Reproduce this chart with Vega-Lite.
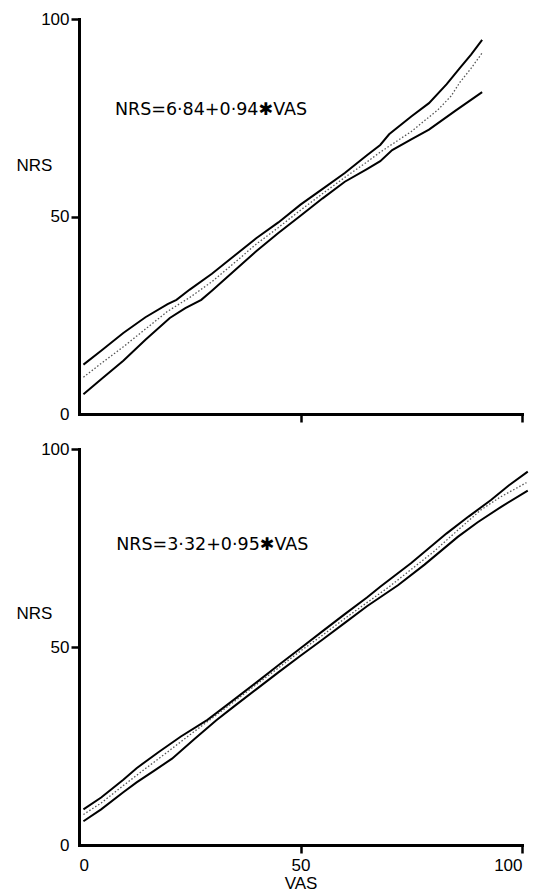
{
  "$schema": "https://vega.github.io/schema/vega-lite/v6.json",
  "background": "white",
  "padding": {"left": 16, "top": 10, "right": 12, "bottom": 0},
  "bounds": "flush",
  "spacing": 35,
  "config": {
    "view": {"stroke": null},
    "font": "Liberation Sans",
    "axis": {
      "grid": false,
      "domainColor": "black",
      "domainWidth": 3,
      "domainCap": "square",
      "tickColor": "black",
      "tickWidth": 2.5,
      "tickSize": 8,
      "labelFont": "Liberation Sans",
      "labelFontSize": 17,
      "labelColor": "black",
      "labelPadding": 2,
      "titleFont": "Liberation Sans",
      "titleFontSize": 17,
      "titleFontWeight": "normal",
      "titleColor": "black"
    }
  },
  "datasets": {
    "top": [
      {"series": "upper", "vas": 1, "nrs": 12.5}, {"series": "upper", "vas": 5, "nrs": 16}, {"series": "upper", "vas": 10, "nrs": 20.5},
      {"series": "upper", "vas": 15, "nrs": 24.5}, {"series": "upper", "vas": 20, "nrs": 27.8}, {"series": "upper", "vas": 22, "nrs": 28.9},
      {"series": "upper", "vas": 25, "nrs": 31.5}, {"series": "upper", "vas": 30, "nrs": 35.5}, {"series": "upper", "vas": 35, "nrs": 40},
      {"series": "upper", "vas": 40, "nrs": 44.5}, {"series": "upper", "vas": 45, "nrs": 48.5}, {"series": "upper", "vas": 50, "nrs": 53},
      {"series": "upper", "vas": 55, "nrs": 57}, {"series": "upper", "vas": 60, "nrs": 61}, {"series": "upper", "vas": 65, "nrs": 65.5},
      {"series": "upper", "vas": 68, "nrs": 68.1}, {"series": "upper", "vas": 70, "nrs": 70.8}, {"series": "upper", "vas": 75, "nrs": 75.3},
      {"series": "upper", "vas": 79, "nrs": 78.7}, {"series": "upper", "vas": 83, "nrs": 83.5}, {"series": "upper", "vas": 86, "nrs": 87.6},
      {"series": "upper", "vas": 88.5, "nrs": 91}, {"series": "upper", "vas": 91, "nrs": 94.7},
      {"series": "lower", "vas": 1, "nrs": 5}, {"series": "lower", "vas": 5, "nrs": 8.8}, {"series": "lower", "vas": 10, "nrs": 13.5},
      {"series": "lower", "vas": 15, "nrs": 18.8}, {"series": "lower", "vas": 20.5, "nrs": 24.3}, {"series": "lower", "vas": 24, "nrs": 26.8},
      {"series": "lower", "vas": 27.6, "nrs": 28.9}, {"series": "lower", "vas": 30, "nrs": 31.2}, {"series": "lower", "vas": 35, "nrs": 36.2},
      {"series": "lower", "vas": 40, "nrs": 41.2}, {"series": "lower", "vas": 45, "nrs": 45.8}, {"series": "lower", "vas": 50, "nrs": 50.2},
      {"series": "lower", "vas": 55, "nrs": 54.6}, {"series": "lower", "vas": 60, "nrs": 58.8}, {"series": "lower", "vas": 65, "nrs": 62},
      {"series": "lower", "vas": 68, "nrs": 64}, {"series": "lower", "vas": 70.7, "nrs": 66.8}, {"series": "lower", "vas": 75, "nrs": 69.5},
      {"series": "lower", "vas": 79, "nrs": 72}, {"series": "lower", "vas": 85, "nrs": 76.8}, {"series": "lower", "vas": 91, "nrs": 81.5},
      {"series": "fit", "vas": 1, "nrs": 9.3}, {"series": "fit", "vas": 5, "nrs": 12.8}, {"series": "fit", "vas": 10, "nrs": 17},
      {"series": "fit", "vas": 15, "nrs": 21.5}, {"series": "fit", "vas": 20, "nrs": 26}, {"series": "fit", "vas": 25, "nrs": 29.5},
      {"series": "fit", "vas": 30, "nrs": 33.5}, {"series": "fit", "vas": 35, "nrs": 38.2}, {"series": "fit", "vas": 40, "nrs": 43},
      {"series": "fit", "vas": 45, "nrs": 47.2}, {"series": "fit", "vas": 50, "nrs": 51.6}, {"series": "fit", "vas": 55, "nrs": 55.8},
      {"series": "fit", "vas": 60, "nrs": 59.9}, {"series": "fit", "vas": 65, "nrs": 63.8}, {"series": "fit", "vas": 68, "nrs": 66.3},
      {"series": "fit", "vas": 75, "nrs": 71.5}, {"series": "fit", "vas": 81, "nrs": 77}, {"series": "fit", "vas": 84, "nrs": 80.5},
      {"series": "fit", "vas": 86, "nrs": 84}, {"series": "fit", "vas": 88.5, "nrs": 87.5}, {"series": "fit", "vas": 91, "nrs": 91.4}
    ],
    "bottom": [
      {"series": "upper", "vas": 1, "nrs": 9}, {"series": "upper", "vas": 5, "nrs": 12}, {"series": "upper", "vas": 10, "nrs": 16.5},
      {"series": "upper", "vas": 13, "nrs": 19.4}, {"series": "upper", "vas": 18, "nrs": 23.5}, {"series": "upper", "vas": 23, "nrs": 27.4},
      {"series": "upper", "vas": 29, "nrs": 31.6}, {"series": "upper", "vas": 35, "nrs": 36.7}, {"series": "upper", "vas": 40, "nrs": 41},
      {"series": "upper", "vas": 45, "nrs": 45.4}, {"series": "upper", "vas": 50, "nrs": 49.7}, {"series": "upper", "vas": 55, "nrs": 54},
      {"series": "upper", "vas": 60, "nrs": 58.3}, {"series": "upper", "vas": 65, "nrs": 62.5}, {"series": "upper", "vas": 68, "nrs": 65.2},
      {"series": "upper", "vas": 75, "nrs": 71.2}, {"series": "upper", "vas": 83, "nrs": 78.7}, {"series": "upper", "vas": 88, "nrs": 83},
      {"series": "upper", "vas": 93, "nrs": 87.1}, {"series": "upper", "vas": 97, "nrs": 90.8}, {"series": "upper", "vas": 101.3, "nrs": 94.3},
      {"series": "lower", "vas": 1, "nrs": 6}, {"series": "lower", "vas": 5, "nrs": 9}, {"series": "lower", "vas": 10, "nrs": 13.3},
      {"series": "lower", "vas": 13, "nrs": 15.8}, {"series": "lower", "vas": 17, "nrs": 18.8}, {"series": "lower", "vas": 21, "nrs": 21.8},
      {"series": "lower", "vas": 26, "nrs": 26.7}, {"series": "lower", "vas": 31, "nrs": 31.5}, {"series": "lower", "vas": 35, "nrs": 35},
      {"series": "lower", "vas": 40, "nrs": 39.3}, {"series": "lower", "vas": 45, "nrs": 43.6}, {"series": "lower", "vas": 50, "nrs": 47.8},
      {"series": "lower", "vas": 55, "nrs": 51.9}, {"series": "lower", "vas": 60, "nrs": 56.1}, {"series": "lower", "vas": 65, "nrs": 60.3},
      {"series": "lower", "vas": 72, "nrs": 65.6}, {"series": "lower", "vas": 78, "nrs": 70.8}, {"series": "lower", "vas": 85.5, "nrs": 77.8},
      {"series": "lower", "vas": 90, "nrs": 81.5}, {"series": "lower", "vas": 95.3, "nrs": 85.4}, {"series": "lower", "vas": 101.3, "nrs": 89.5},
      {"series": "fit", "vas": 1, "nrs": 7.7}, {"series": "fit", "vas": 5, "nrs": 10.6}, {"series": "fit", "vas": 10, "nrs": 15},
      {"series": "fit", "vas": 15, "nrs": 19.3}, {"series": "fit", "vas": 20, "nrs": 23.5}, {"series": "fit", "vas": 25, "nrs": 27.8},
      {"series": "fit", "vas": 30, "nrs": 32}, {"series": "fit", "vas": 35, "nrs": 36.2}, {"series": "fit", "vas": 40, "nrs": 40.5},
      {"series": "fit", "vas": 45, "nrs": 44.7}, {"series": "fit", "vas": 50, "nrs": 49}, {"series": "fit", "vas": 55, "nrs": 53},
      {"series": "fit", "vas": 60, "nrs": 57.2}, {"series": "fit", "vas": 65, "nrs": 61.2}, {"series": "fit", "vas": 70, "nrs": 65.2},
      {"series": "fit", "vas": 75, "nrs": 69.6}, {"series": "fit", "vas": 80, "nrs": 74}, {"series": "fit", "vas": 85, "nrs": 79},
      {"series": "fit", "vas": 90.7, "nrs": 84.6}, {"series": "fit", "vas": 95, "nrs": 87.8}, {"series": "fit", "vas": 101, "nrs": 91.5}
    ]
  },
  "vconcat": [
    {
      "width": 443,
      "height": 395,
      "layer": [
        {
          "data": {"name": "top"},
          "transform": [{"filter": "datum.series != 'fit'"}],
          "mark": {"type": "line", "color": "black", "strokeWidth": 2, "clip": false},
          "encoding": {
            "x": {"field": "vas", "type": "quantitative", "scale": {"domain": [0, 100]},
              "axis": {"values": [0, 50, 100], "labels": false, "title": null,
                "tickOpacity": {"condition": {"test": "datum.value === 0", "value": 0}, "value": 1}}},
            "y": {"field": "nrs", "type": "quantitative", "scale": {"domain": [0, 100]},
              "axis": {"values": [0, 50, 100], "title": "NRS", "titleAngle": 0, "titleAlign": "left", "titleBaseline": "middle",
                "titleX": -63, "titleY": 146,
                "tickOpacity": {"condition": {"test": "datum.value === 0", "value": 0}, "value": 1}}},
            "detail": {"field": "series"},
            "order": {"field": "vas"}
          }
        },
        {
          "data": {"name": "top"},
          "transform": [{"filter": "datum.series == 'fit'"}],
          "mark": {"type": "line", "color": "#555555", "strokeWidth": 1.3, "strokeDash": [1.5, 2], "clip": false},
          "encoding": {
            "x": {"field": "vas", "type": "quantitative"},
            "y": {"field": "nrs", "type": "quantitative"},
            "order": {"field": "vas"}
          }
        },
        {
          "data": {"values": [{"vas": 8.1, "nrs": 77, "label": "NRS=6·84+0·94✱VAS"}]},
          "mark": {"type": "text", "align": "left", "baseline": "middle", "fontSize": 17.5, "font": "DejaVu Sans", "color": "black"},
          "encoding": {
            "x": {"field": "vas", "type": "quantitative"},
            "y": {"field": "nrs", "type": "quantitative"},
            "text": {"field": "label"}
          }
        }
      ]
    },
    {
      "width": 443,
      "height": 396,
      "layer": [
        {
          "data": {"name": "bottom"},
          "transform": [{"filter": "datum.series != 'fit'"}],
          "mark": {"type": "line", "color": "black", "strokeWidth": 2, "clip": false},
          "encoding": {
            "x": {"field": "vas", "type": "quantitative", "scale": {"domain": [0, 100]},
              "axis": {"values": [0, 50, 100], "title": "VAS", "titlePadding": 2, "labelPadding": 4,
                "tickOpacity": {"condition": {"test": "datum.value === 0", "value": 0}, "value": 1}}},
            "y": {"field": "nrs", "type": "quantitative", "scale": {"domain": [0, 100]},
              "axis": {"values": [0, 50, 100], "title": "NRS", "titleAngle": 0, "titleAlign": "left", "titleBaseline": "middle",
                "titleX": -63, "titleY": 164,
                "tickOpacity": {"condition": {"test": "datum.value === 0", "value": 0}, "value": 1}}},
            "detail": {"field": "series"},
            "order": {"field": "vas"}
          }
        },
        {
          "data": {"name": "bottom"},
          "transform": [{"filter": "datum.series == 'fit'"}],
          "mark": {"type": "line", "color": "#555555", "strokeWidth": 1.3, "strokeDash": [1.5, 2], "clip": false},
          "encoding": {
            "x": {"field": "vas", "type": "quantitative"},
            "y": {"field": "nrs", "type": "quantitative"},
            "order": {"field": "vas"}
          }
        },
        {
          "data": {"values": [{"vas": 8.4, "nrs": 75.8, "label": "NRS=3·32+0·95✱VAS"}]},
          "mark": {"type": "text", "align": "left", "baseline": "middle", "fontSize": 17.5, "font": "DejaVu Sans", "color": "black"},
          "encoding": {
            "x": {"field": "vas", "type": "quantitative"},
            "y": {"field": "nrs", "type": "quantitative"},
            "text": {"field": "label"}
          }
        }
      ]
    }
  ]
}
